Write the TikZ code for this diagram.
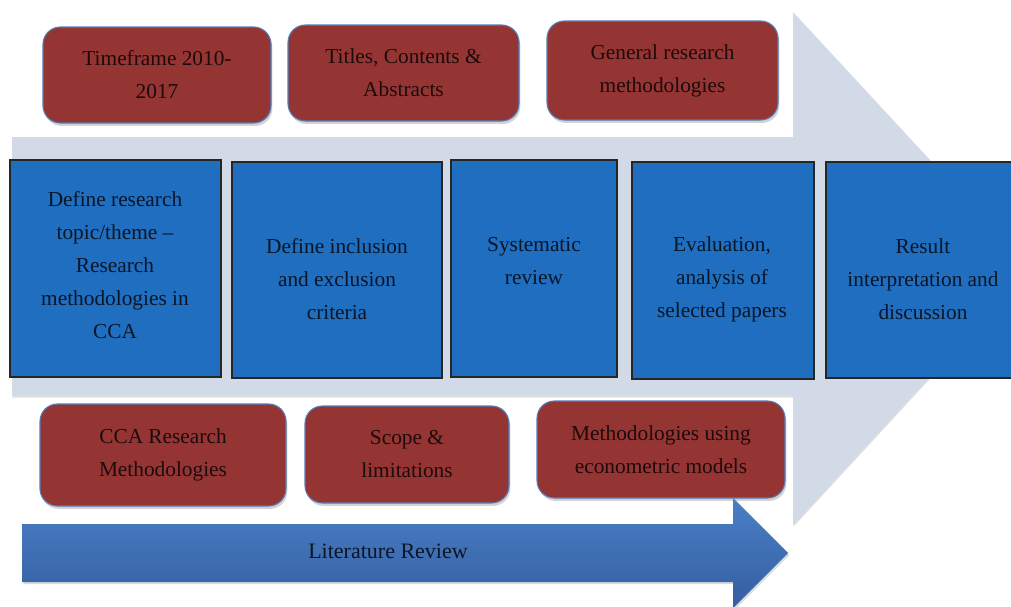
\documentclass[tikz,border=0pt]{standalone}
\usepackage{fontspec}
\setmainfont{Liberation Serif}
\usetikzlibrary{shadows,calc}
\definecolor{lightarrow}{RGB}{210,218,232}
\definecolor{redfill}{RGB}{148,53,52}
\definecolor{rededge}{RGB}{85,125,185}
\definecolor{redtext}{RGB}{30,10,10}
\definecolor{bluefill}{RGB}{31,110,191}
\definecolor{bluetext}{RGB}{10,22,40}
\definecolor{littop}{RGB}{74,127,198}
\definecolor{litbot}{RGB}{52,94,160}
\tikzset{
  txt/.style={font=\fontsize{16}{24.75}\selectfont, align=center, inner sep=0pt},
  redbox/.style={txt, draw=rededge, line width=0.8pt, fill=redfill, rounded corners=13pt,
    text=redtext, drop shadow={shadow xshift=1pt, shadow yshift=-2.2pt, opacity=0.35}},
  bluebox/.style={draw=black!85, line width=0.8pt, fill=bluefill, inner sep=0pt},
  bluelabel/.style={txt, text=bluetext},
}
\begin{document}
\begin{tikzpicture}[x=0.75pt,y=-0.75pt]
\useasboundingbox (0,0) rectangle (1011,607);
\clip (0,0) rectangle (1011,607);
% big light arrow
\fill[lightarrow, drop shadow={shadow xshift=0.5pt, shadow yshift=-1.2pt, opacity=0.25}]
  (12,137) -- (793,137) -- (793,12) -- (1030,268) -- (793,525) -- (793,396) -- (12,396) -- cycle;
% literature review arrow
\shade[top color=littop, bottom color=litbot, drop shadow={shadow xshift=1pt, shadow yshift=-1.5pt, opacity=0.3}]
  (22,524) -- (733,524) -- (733,498) -- (788,553) -- (733,608) -- (733,582) -- (22,582) -- cycle;
\node[txt, text=bluetext, font=\fontsize{16.5}{20}\selectfont] (lit) at (388,551) {Literature Review};
% top red boxes
\node[redbox, minimum width=171pt, minimum height=72pt] (t1) at (157,75) {Timeframe 2010-\\2017};
\node[redbox, minimum width=173.25pt, minimum height=72pt] (t2) at (403.5,73) {Titles, Contents \&\\Abstracts};
\node[redbox, minimum width=173.25pt, minimum height=74.25pt] (t3) at (662.5,70.5) {General research\\methodologies};
% bottom red boxes
\node[redbox, minimum width=184.5pt, minimum height=76.5pt] (b1) at (163,455) {CCA Research\\Methodologies};
\node[redbox, minimum width=153pt, minimum height=72.75pt] (b2) at (407,454.5) {Scope \&\\limitations};
\node[redbox, minimum width=186pt, minimum height=72.75pt] (b3) at (661,449.5) {Methodologies using\\econometric models};
% blue boxes
\node[bluebox, minimum width=158.25pt, minimum height=162.75pt] (m1) at (115.5,268.5) {};
\node[bluebox, minimum width=157.5pt, minimum height=162pt] (m2) at (337,270) {};
\node[bluebox, minimum width=124.5pt, minimum height=162.75pt] (m3) at (534,268.5) {};
\node[bluebox, minimum width=136.5pt, minimum height=162.75pt] (m4) at (723,270.5) {};
\node[bluebox, minimum width=140.25pt, minimum height=162pt] (m5) at (919.5,270) {};
\node[bluelabel] (m1t) at (115,265) {Define research\\topic/theme –\\Research\\methodologies in\\CCA};
\node[bluelabel] (m2t) at (337,279) {Define inclusion\\and exclusion\\criteria};
\node[bluelabel] (m3t) at (534,261) {Systematic\\review};
\node[bluelabel] (m4t) at (722,279) {Evaluation,\\analysis of\\selected papers};
\node[bluelabel] (m5t) at (923,279) {Result\\interpretation and\\discussion};
\end{tikzpicture}
\end{document}
